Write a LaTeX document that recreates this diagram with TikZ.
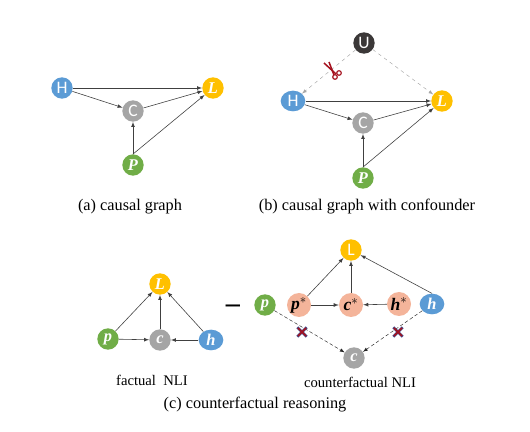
\documentclass[tikz,border=0pt]{standalone}
\usepackage{fontspec}
\setmainfont{Liberation Serif}
\setsansfont{Carlito}
\usetikzlibrary{shapes.misc,shapes.geometric}
\definecolor{hblue}{HTML}{5B9BD5}
\definecolor{lyellow}{HTML}{FFC000}
\definecolor{cgray}{HTML}{A5A5A5}
\definecolor{pgreen}{HTML}{70AD47}
\definecolor{udark}{HTML}{3B3838}
\definecolor{starpink}{HTML}{F4B49A}
\definecolor{cutred}{HTML}{A5121F}
\definecolor{cutblue}{HTML}{3F4C8C}
\tikzset{
	var/.style={circle, minimum size=0.64cm, inner sep=0pt, text=white, font=\sffamily\fontsize{15}{15}\selectfont},
	itvar/.style={var, font=\rmfamily\bfseries\itshape\fontsize{14}{14}\selectfont},
	wide/.style={ellipse, minimum width=0.74cm, minimum height=0.62cm},
	starvar/.style={itvar, minimum size=0.72cm, fill=starpink, text=black, font=\rmfamily\bfseries\itshape\fontsize{15}{15}\selectfont},
	edge/.style={-latex, draw=black!75, line width=0.5pt},
	confound/.style={-latex, draw=black!35, dashed, line width=0.4pt},
	cutedge/.style={-latex, draw=black!85, densely dashed, line width=0.4pt},
	caption/.style={font=\fontsize{13.9}{13.9}\selectfont},
	subcaption/.style={font=\fontsize{12.5}{12.5}\selectfont},
	nomark/.style={cross out, draw=#1, minimum size=0.2cm, inner sep=0pt}
}
\begin{document}
\begin{tikzpicture}[x=0.03cm, y=-0.03cm]
	\useasboundingbox (0, 0) rectangle (530, 432);

	%%%%% causal graph %%%%%
	\node[var, fill=hblue] (aH) at (62, 88) {H};
	\node[itvar, fill=lyellow] (aL) at (213, 88) {L};
	\node[var, fill=cgray] (aC) at (133, 111) {C};
	\node[itvar, fill=pgreen] (aP) at (133, 165) {P};
	\draw[edge] (aH.east) -- (aL.west);
	\draw[edge] (aH) -- (aC);
	\draw[edge] (aC) -- (aL);
	\draw[edge] (aP) -- (aC);
	\draw[edge] (aP.north) -- (aL);
	\node[caption] (acap) at (130, 207) {(a) causal graph};

	%%%%% with confounder %%%%%
	\node[var, fill=udark] (bU) at (364, 43) {U};
	\node[var, wide, fill=hblue] (bH) at (293, 101) {H};
	\node[itvar, fill=lyellow] (bL) at (442, 101) {L};
	\node[var, fill=cgray] (bC) at (363, 123) {C};
	\node[itvar, fill=pgreen] (bP) at (363, 178) {P};
	\draw[confound] (bU) -- (bH);
	\draw[confound] (bU) -- (bL);
	\draw[edge] (bH.east) -- (bL.west);
	\draw[edge] (bH) -- (bC);
	\draw[edge] (bC) -- (bL);
	\draw[edge] (bP) -- (bC);
	\draw[edge] (bP.north) -- (bL);

	% scissors
	\draw[cutred, line width=1.3pt] (324, 63) -- (336, 74);
	\draw[cutred, line width=1.3pt] (329, 62) -- (334, 75);
	\draw[cutred, line width=1pt] (339, 73) circle (2.3);
	\draw[cutred, line width=1pt] (335, 77) circle (2.3);

	\node[caption] (bcap) at (367, 207) {(b) causal graph with confounder};

	%%%%% factual %%%%%
	\node[itvar, fill=lyellow] (fL) at (160, 284) {L};
	\node[itvar, fill=pgreen] (fp) at (108, 339) {p};
	\node[itvar, fill=cgray] (fc) at (160, 340) {c};
	\node[itvar, wide, fill=hblue] (fh) at (211, 340) {h};
	\draw[edge] (fp) -- (fL);
	\draw[edge] (fc) -- (fL);
	\draw[edge] (fh) -- (fL);
	\draw[edge] (fp) -- (fc);
	\draw[edge] (fh) -- (fc);
	\node[subcaption] (fcap) at (152, 380) {factual\ \ NLI};

	\node[font=\bfseries\fontsize{24}{24}\selectfont] (minus) at (233, 309) {--};

	%%%%% counterfactual %%%%%
	\node[var, fill=lyellow] (nL) at (351, 250) {L};
	\node[itvar, fill=pgreen] (np) at (265, 305) {p};
	\node[starvar] (ps) at (299, 305) {p$^{*}$};
	\node[starvar] (cs) at (351, 305) {c$^{*}$};
	\node[starvar] (hs) at (399, 304) {h$^{*}$};
	\node[itvar, wide, fill=hblue] (nh) at (432, 304) {h};
	\node[itvar, fill=cgray] (nc) at (354, 358) {c};
	\draw[edge] (ps) -- (nL);
	\draw[edge] (cs) -- (nL);
	\draw[edge] (nh.north) -- (nL);
	\draw[edge] (ps) -- (cs);
	\draw[edge] (hs) -- (cs);
	\draw[cutedge] (np) -- (nc);
	\draw[cutedge] (nh) -- (nc);
	\node[nomark=cutblue, line width=2.4pt] (xpb) at (302, 332) {};
	\node[nomark=cutred, line width=1.3pt] (xp) at (302, 332) {};
	\node[nomark=cutblue, line width=2.4pt] (xhb) at (398, 332) {};
	\node[nomark=cutred, line width=1.3pt] (xh) at (398, 332) {};
	\node[subcaption] (ncap) at (360, 382) {counterfactual NLI};

	\node[caption] (ccap) at (255, 405) {(c) counterfactual reasoning};
\end{tikzpicture}
\end{document}
